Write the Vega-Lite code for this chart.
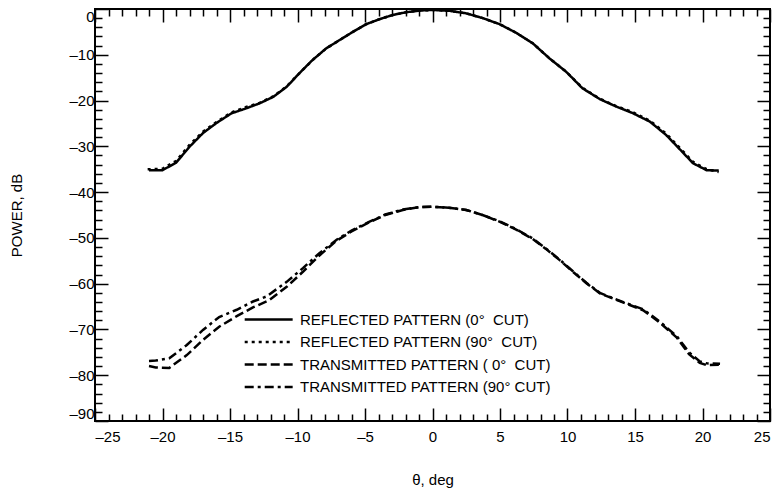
{
  "$schema": "https://vega.github.io/schema/vega-lite/v6.json",
  "width": 675,
  "height": 412,
  "autosize": {"type": "none"},
  "padding": {"left": 95, "top": 9, "right": 5, "bottom": 69},
  "background": "white",
  "config": {
    "font": "Liberation Sans",
    "view": {"stroke": "black", "strokeWidth": 2},
    "axis": {"grid": false, "domain": false, "tickColor": "black", "tickWidth": 1.5, "labelColor": "black", "labelFontSize": 15, "labelFont": "Liberation Sans", "titleFont": "Liberation Sans", "titleFontSize": 15, "titleFontWeight": "normal", "titleColor": "black", "labelOverlap": false}
  },
  "data": {"values": [
    {"series": "R0", "theta": -21.0, "power": -35.2},
    {"series": "R0", "theta": -20.0, "power": -35.2},
    {"series": "R0", "theta": -19.0, "power": -33.6},
    {"series": "R0", "theta": -18.0, "power": -30.1},
    {"series": "R0", "theta": -17.0, "power": -27.1},
    {"series": "R0", "theta": -16.0, "power": -24.9},
    {"series": "R0", "theta": -14.9, "power": -22.8},
    {"series": "R0", "theta": -13.8, "power": -21.7},
    {"series": "R0", "theta": -12.8, "power": -20.6},
    {"series": "R0", "theta": -11.8, "power": -19.2},
    {"series": "R0", "theta": -10.8, "power": -17.0},
    {"series": "R0", "theta": -9.85, "power": -14.0},
    {"series": "R0", "theta": -8.87, "power": -11.1},
    {"series": "R0", "theta": -7.87, "power": -8.6},
    {"series": "R0", "theta": -6.89, "power": -6.8},
    {"series": "R0", "theta": -5.9, "power": -5.0},
    {"series": "R0", "theta": -4.9, "power": -3.3},
    {"series": "R0", "theta": -3.9, "power": -2.2},
    {"series": "R0", "theta": -2.94, "power": -1.3},
    {"series": "R0", "theta": -1.95, "power": -0.7},
    {"series": "R0", "theta": -0.96, "power": -0.35},
    {"series": "R0", "theta": 0, "power": -0.2},
    {"series": "R0", "theta": 1.26, "power": -0.4},
    {"series": "R0", "theta": 2.5, "power": -0.95},
    {"series": "R0", "theta": 3.73, "power": -2.0},
    {"series": "R0", "theta": 4.96, "power": -3.3},
    {"series": "R0", "theta": 6.2, "power": -5.2},
    {"series": "R0", "theta": 7.43, "power": -7.5},
    {"series": "R0", "theta": 8.67, "power": -10.8},
    {"series": "R0", "theta": 9.9, "power": -13.7},
    {"series": "R0", "theta": 11.1, "power": -17.3},
    {"series": "R0", "theta": 12.4, "power": -19.7},
    {"series": "R0", "theta": 13.6, "power": -21.3},
    {"series": "R0", "theta": 14.8, "power": -22.7},
    {"series": "R0", "theta": 16.1, "power": -24.6},
    {"series": "R0", "theta": 17.3, "power": -27.5},
    {"series": "R0", "theta": 18.5, "power": -31.2},
    {"series": "R0", "theta": 19.3, "power": -33.7},
    {"series": "R0", "theta": 20.3, "power": -35.2},
    {"series": "R0", "theta": 21.2, "power": -35.3},

    {"series": "R90", "theta": -21.1, "power": -35.0},
    {"series": "R90", "theta": -20.0, "power": -34.9},
    {"series": "R90", "theta": -19.0, "power": -33.2},
    {"series": "R90", "theta": -18.0, "power": -29.7},
    {"series": "R90", "theta": -17.0, "power": -26.8},
    {"series": "R90", "theta": -16.0, "power": -24.7},
    {"series": "R90", "theta": -14.9, "power": -22.6},
    {"series": "R90", "theta": -13.8, "power": -21.4},
    {"series": "R90", "theta": -12.8, "power": -20.5},
    {"series": "R90", "theta": -11.8, "power": -19.1},
    {"series": "R90", "theta": -10.8, "power": -16.9},
    {"series": "R90", "theta": -9.85, "power": -14.0},
    {"series": "R90", "theta": -8.87, "power": -11.1},
    {"series": "R90", "theta": -7.87, "power": -8.6},
    {"series": "R90", "theta": -6.89, "power": -6.8},
    {"series": "R90", "theta": -5.9, "power": -5.0},
    {"series": "R90", "theta": -4.9, "power": -3.3},
    {"series": "R90", "theta": -3.9, "power": -2.2},
    {"series": "R90", "theta": -2.94, "power": -1.3},
    {"series": "R90", "theta": -1.95, "power": -0.7},
    {"series": "R90", "theta": -0.96, "power": -0.35},
    {"series": "R90", "theta": 0, "power": -0.2},
    {"series": "R90", "theta": 1.26, "power": -0.4},
    {"series": "R90", "theta": 2.5, "power": -0.95},
    {"series": "R90", "theta": 3.73, "power": -2.0},
    {"series": "R90", "theta": 4.96, "power": -3.3},
    {"series": "R90", "theta": 6.2, "power": -5.2},
    {"series": "R90", "theta": 7.43, "power": -7.5},
    {"series": "R90", "theta": 8.67, "power": -10.8},
    {"series": "R90", "theta": 9.9, "power": -13.7},
    {"series": "R90", "theta": 11.1, "power": -17.2},
    {"series": "R90", "theta": 12.4, "power": -19.6},
    {"series": "R90", "theta": 13.6, "power": -21.2},
    {"series": "R90", "theta": 14.8, "power": -22.5},
    {"series": "R90", "theta": 16.1, "power": -24.4},
    {"series": "R90", "theta": 17.3, "power": -27.2},
    {"series": "R90", "theta": 18.5, "power": -30.9},
    {"series": "R90", "theta": 19.3, "power": -33.4},
    {"series": "R90", "theta": 20.3, "power": -35.0},
    {"series": "R90", "theta": 21.2, "power": -35.6},

    {"series": "T0", "theta": -21.0, "power": -78.0},
    {"series": "T0", "theta": -20.5, "power": -78.3},
    {"series": "T0", "theta": -19.5, "power": -78.4},
    {"series": "T0", "theta": -18.2, "power": -75.6},
    {"series": "T0", "theta": -17.0, "power": -72.3},
    {"series": "T0", "theta": -15.8, "power": -69.4},
    {"series": "T0", "theta": -14.5, "power": -67.1},
    {"series": "T0", "theta": -13.3, "power": -65.2},
    {"series": "T0", "theta": -12.1, "power": -63.6},
    {"series": "T0", "theta": -10.8, "power": -60.7},
    {"series": "T0", "theta": -9.6, "power": -57.4},
    {"series": "T0", "theta": -8.4, "power": -53.9},
    {"series": "T0", "theta": -7.1, "power": -50.6},
    {"series": "T0", "theta": -6.0, "power": -48.6},
    {"series": "T0", "theta": -4.7, "power": -46.6},
    {"series": "T0", "theta": -3.5, "power": -45.0},
    {"series": "T0", "theta": -2.2, "power": -43.9},
    {"series": "T0", "theta": -1.0, "power": -43.3},
    {"series": "T0", "theta": 0, "power": -43.2},
    {"series": "T0", "theta": 1.2, "power": -43.4},
    {"series": "T0", "theta": 2.5, "power": -43.9},
    {"series": "T0", "theta": 3.7, "power": -45.0},
    {"series": "T0", "theta": 5.0, "power": -46.5},
    {"series": "T0", "theta": 6.2, "power": -48.2},
    {"series": "T0", "theta": 7.4, "power": -50.2},
    {"series": "T0", "theta": 8.4, "power": -52.4},
    {"series": "T0", "theta": 9.4, "power": -54.8},
    {"series": "T0", "theta": 10.4, "power": -57.4},
    {"series": "T0", "theta": 11.4, "power": -59.9},
    {"series": "T0", "theta": 12.4, "power": -62.1},
    {"series": "T0", "theta": 13.4, "power": -63.3},
    {"series": "T0", "theta": 14.3, "power": -64.3},
    {"series": "T0", "theta": 15.6, "power": -65.8},
    {"series": "T0", "theta": 16.8, "power": -68.4},
    {"series": "T0", "theta": 18.1, "power": -71.8},
    {"series": "T0", "theta": 19.0, "power": -75.4},
    {"series": "T0", "theta": 19.8, "power": -77.3},
    {"series": "T0", "theta": 20.3, "power": -77.8},
    {"series": "T0", "theta": 21.3, "power": -77.7},

    {"series": "T90", "theta": -21.0, "power": -76.9},
    {"series": "T90", "theta": -20.5, "power": -76.8},
    {"series": "T90", "theta": -19.5, "power": -76.3},
    {"series": "T90", "theta": -18.2, "power": -73.4},
    {"series": "T90", "theta": -17.0, "power": -70.1},
    {"series": "T90", "theta": -15.8, "power": -67.3},
    {"series": "T90", "theta": -14.5, "power": -65.7},
    {"series": "T90", "theta": -13.3, "power": -63.9},
    {"series": "T90", "theta": -12.3, "power": -62.8},
    {"series": "T90", "theta": -10.8, "power": -59.6},
    {"series": "T90", "theta": -9.6, "power": -56.6},
    {"series": "T90", "theta": -8.4, "power": -53.4},
    {"series": "T90", "theta": -7.1, "power": -50.4},
    {"series": "T90", "theta": -6.0, "power": -48.4},
    {"series": "T90", "theta": -4.7, "power": -46.5},
    {"series": "T90", "theta": -3.5, "power": -44.9},
    {"series": "T90", "theta": -2.2, "power": -43.8},
    {"series": "T90", "theta": -1.0, "power": -43.3},
    {"series": "T90", "theta": 0, "power": -43.2},
    {"series": "T90", "theta": 1.2, "power": -43.4},
    {"series": "T90", "theta": 2.5, "power": -43.9},
    {"series": "T90", "theta": 3.7, "power": -45.0},
    {"series": "T90", "theta": 5.0, "power": -46.4},
    {"series": "T90", "theta": 6.2, "power": -48.1},
    {"series": "T90", "theta": 7.4, "power": -50.1},
    {"series": "T90", "theta": 8.4, "power": -52.3},
    {"series": "T90", "theta": 9.4, "power": -54.7},
    {"series": "T90", "theta": 10.4, "power": -57.3},
    {"series": "T90", "theta": 11.4, "power": -59.8},
    {"series": "T90", "theta": 12.4, "power": -62.0},
    {"series": "T90", "theta": 13.4, "power": -63.2},
    {"series": "T90", "theta": 14.3, "power": -64.2},
    {"series": "T90", "theta": 15.6, "power": -65.6},
    {"series": "T90", "theta": 16.8, "power": -68.2},
    {"series": "T90", "theta": 18.1, "power": -71.5},
    {"series": "T90", "theta": 19.0, "power": -75.0},
    {"series": "T90", "theta": 19.8, "power": -77.0},
    {"series": "T90", "theta": 20.3, "power": -77.4},
    {"series": "T90", "theta": 21.3, "power": -77.5}
  ]},
  "layer": [
    {
      "mark": {"type": "line", "strokeWidth": 2.5, "color": "black", "strokeCap": "butt"},
      "encoding": {
        "x": {"field": "theta", "type": "quantitative", "scale": {"domain": [-25, 25], "nice": false, "zero": false},
          "axis": {"orient": "bottom", "values": [-25,-24,-23,-22,-21,-20,-19,-18,-17,-16,-15,-14,-13,-12,-11,-10,-9,-8,-7,-6,-5,-4,-3,-2,-1,0,1,2,3,4,5,6,7,8,9,10,11,12,13,14,15,16,17,18,19,20,21,22,23,24,25],
            "tickSize": {"condition": {"test": "datum.value % 5 === 0", "value": -13}, "value": -7},
            "labelExpr": "datum.value % 5 === 0 ? (datum.value < 0 ? '–' + abs(datum.value) : '' + datum.value) : ''",
            "labelFlush": true, "labelPadding": 21, "title": "θ, deg", "titlePadding": 22}},
        "y": {"field": "power", "type": "quantitative", "scale": {"domain": [-90, 0], "nice": false, "zero": false},
          "axis": {"orient": "left", "values": [-90,-88,-86,-84,-82,-80,-78,-76,-74,-72,-70,-68,-66,-64,-62,-60,-58,-56,-54,-52,-50,-48,-46,-44,-42,-40,-38,-36,-34,-32,-30,-28,-26,-24,-22,-20,-18,-16,-14,-12,-10,-8,-6,-4,-2,0],
            "tickSize": {"condition": {"test": "datum.value % 10 === 0", "value": -13}, "value": -7},
            "labelExpr": "datum.value % 10 === 0 ? (datum.value < 0 ? '–' + abs(datum.value) : '' + datum.value) : ''",
            "labelFlush": true, "labelPadding": 14, "title": "POWER, dB", "titlePadding": 44}},
        "strokeDash": {"field": "series", "type": "nominal",
          "scale": {"domain": ["R0", "R90", "T0", "T90"], "range": [[1, 0], [3, 4], [9, 4], [9, 4, 3, 4]]},
          "legend": {"orient": "none", "legendX": 147, "legendY": 303, "title": null, "padding": 0,
            "symbolType": "M-1,0H9", "symbolSize": 92, "symbolStrokeWidth": 2.5, "symbolStrokeColor": "black", "symbolFillColor": "transparent",
            "labelFontSize": 15, "labelColor": "black", "labelFont": "Liberation Sans", "labelOffset": 43, "labelLimit": 0, "rowPadding": 6.5,
            "labelExpr": "datum.value === 'R0' ? 'REFLECTED PATTERN (0°\u00a0\u00a0CUT)' : datum.value === 'R90' ? 'REFLECTED PATTERN (90°\u00a0\u00a0CUT)' : datum.value === 'T0' ? 'TRANSMITTED PATTERN (\u00a00°\u00a0\u00a0CUT)' : 'TRANSMITTED PATTERN (90°\u00a0CUT)'"}}
      }
    },
    {
      "mark": {"type": "line", "strokeOpacity": 0},
      "encoding": {
        "x": {"field": "theta", "type": "quantitative",
          "axis": {"orient": "top", "values": [-25,-24,-23,-22,-21,-20,-19,-18,-17,-16,-15,-14,-13,-12,-11,-10,-9,-8,-7,-6,-5,-4,-3,-2,-1,0,1,2,3,4,5,6,7,8,9,10,11,12,13,14,15,16,17,18,19,20,21,22,23,24,25],
            "tickSize": {"condition": {"test": "datum.value % 5 === 0", "value": -13}, "value": -7},
            "labels": false, "title": null}},
        "y": {"field": "power", "type": "quantitative",
          "axis": {"orient": "right", "values": [-90,-88,-86,-84,-82,-80,-78,-76,-74,-72,-70,-68,-66,-64,-62,-60,-58,-56,-54,-52,-50,-48,-46,-44,-42,-40,-38,-36,-34,-32,-30,-28,-26,-24,-22,-20,-18,-16,-14,-12,-10,-8,-6,-4,-2,0],
            "tickSize": {"condition": {"test": "datum.value % 10 === 0", "value": -13}, "value": -7},
            "labels": false, "title": null}},
        "detail": {"field": "series", "type": "nominal"}
      }
    }
  ],
  "resolve": {"axis": {"x": "independent", "y": "independent"}}
}
